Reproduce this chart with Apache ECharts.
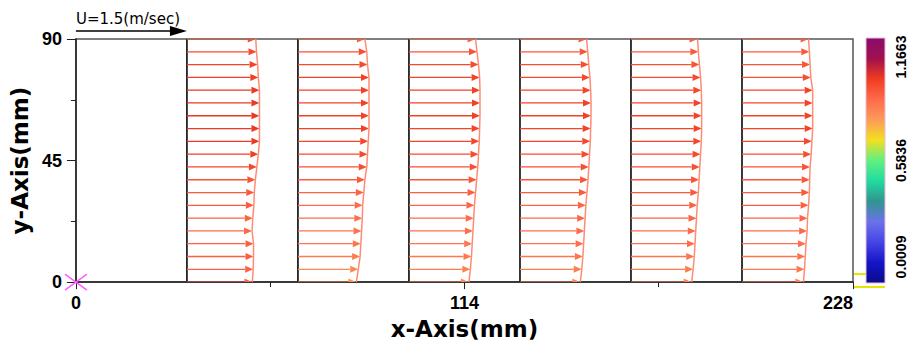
<!DOCTYPE html>
<html>
<head>
<meta charset="utf-8">
<script src="https://cdn.jsdelivr.net/npm/echarts@6.0.0/dist/echarts.min.js"></script>
<style>
  html, body { margin: 0; padding: 0; background: #fff; }
  #main { width: 914px; height: 345px; }
</style>
</head>
<body>
<div id="main"></div>
<script>
// domain, mm
const xMax = 228;
const yMax = 90;

// measuring stations along x (mm) and sample heights (mm)
const stationX = [32.57, 65.14, 97.71, 130.29, 162.86, 195.43];
const rowY = [90, 85.26, 80.53, 75.79, 71.05, 66.32, 61.58, 56.84, 52.11, 47.37,
              42.63, 37.89, 33.16, 28.42, 23.68, 18.95, 14.21, 9.47, 4.74, 0];

// velocity U (m/sec) at each row, top to bottom, one array per station
const uStation1 = [0.93, 0.94, 0.955, 0.965, 0.98, 0.98, 0.98, 0.98, 0.98, 0.965,
                   0.945, 0.925, 0.91, 0.905, 0.89, 0.88, 0.90, 0.90, 0.895, 0.885];
const uStation2 = [0.905, 0.93, 0.94, 0.96, 0.96, 0.96, 0.96, 0.96, 0.95, 0.94,
                   0.93, 0.905, 0.89, 0.875, 0.87, 0.86, 0.85, 0.84, 0.815, 0.79];
const uStation3 = [0.90, 0.92, 0.94, 0.955, 0.96, 0.96, 0.96, 0.955, 0.95, 0.94,
                   0.93, 0.915, 0.90, 0.885, 0.875, 0.865, 0.855, 0.845, 0.83, 0.81];
const uStation4 = [0.90, 0.915, 0.93, 0.945, 0.955, 0.96, 0.96, 0.955, 0.95, 0.94,
                   0.93, 0.92, 0.905, 0.89, 0.88, 0.87, 0.86, 0.85, 0.835, 0.815];
const uStation5 = [0.90, 0.91, 0.925, 0.94, 0.95, 0.955, 0.955, 0.955, 0.95, 0.94,
                   0.93, 0.92, 0.91, 0.895, 0.885, 0.875, 0.865, 0.855, 0.84, 0.82];
const uStation6 = [0.90, 0.91, 0.92, 0.93, 0.955, 0.955, 0.955, 0.955, 0.945, 0.935,
                   0.92, 0.915, 0.91, 0.90, 0.885, 0.88, 0.865, 0.855, 0.845, 0.83];
const uStations = [uStation1, uStation2, uStation3, uStation4, uStation5, uStation6];

// reference arrow and colour bar
const scaleU = 1.5;          // m/sec
const scaleLenMm = 32.57;    // length of the reference arrow on the x axis
const colorbarTicks = [0.0009, 0.5836, 1.1663];

const mmPerU = scaleLenMm / scaleU;

// colour bar, low -> high
const colorbarColors = ['#0a0a8a', '#1515c8', '#4545e6', '#6c72e8', '#30958f', '#20dca0',
                        '#60f080', '#f2e020', '#fc9a58', '#ff6a4c', '#f03c20', '#a0104e', '#8a0c6e'];

function speedColor(u) {
  const lo = colorbarTicks[0], hi = colorbarTicks[colorbarTicks.length - 1];
  const t = Math.max(0, Math.min(1, (u - lo) / (hi - lo)));
  return echarts.color.lerp(t, colorbarColors);
}

const arrowData = [];
stationX.forEach((x, s) => {
  rowY.forEach((y, i) => arrowData.push([x, y, uStations[s][i]]));
});

const chart = echarts.init(document.getElementById('main'), null, { renderer: 'svg' });

const profileSeries = stationX.map((x, s) => ({
  type: 'line',
  silent: true,
  symbol: 'none',
  z: 4,
  lineStyle: { color: '#ff8c72', width: 1.5 },
  data: rowY.map((y, i) => [x + uStations[s][i] * mmPerU, y])
}));

const tickFont = { fontFamily: 'Liberation Sans, Arial, sans-serif', fontWeight: 'bold', fontSize: 18, color: '#000' };
const nameFont = { fontFamily: 'DejaVu Sans, sans-serif', fontWeight: 'bold', fontSize: 23, color: '#000' };
const cbFont = 'bold 14px "Liberation Sans Narrow", "Liberation Sans", sans-serif';

const cbX = 866, cbY = 38, cbW = 19, cbH = 245;

chart.setOption({
  animation: false,
  backgroundColor: '#fff',
  grid: { left: 75, right: 61, top: 39, bottom: 59, show: true, borderColor: '#555', borderWidth: 1.5 },
  xAxis: {
    type: 'value', min: 0, max: xMax, interval: 114,
    name: 'x-Axis(mm)', nameLocation: 'middle', nameGap: 27, nameTextStyle: nameFont,
    axisLine: { lineStyle: { color: '#222', width: 1.5 } },
    axisTick: { length: 7, lineStyle: { color: '#222' } },
    minorTick: { show: true, splitNumber: 2, length: 5, lineStyle: { color: '#222' } },
    axisLabel: Object.assign({ margin: 12, alignMaxLabel: 'right' }, tickFont),
    splitLine: { show: false }
  },
  yAxis: {
    type: 'value', min: 0, max: yMax, interval: 45,
    name: 'y-Axis(mm)', nameLocation: 'middle', nameGap: 26, nameTextStyle: nameFont,
    axisLine: { lineStyle: { color: '#222', width: 1.5 } },
    axisTick: { length: 9, lineStyle: { color: '#222' } },
    minorTick: { show: true, splitNumber: 2, length: 5, lineStyle: { color: '#222' } },
    axisLabel: Object.assign({ margin: 14 }, tickFont),
    splitLine: { show: false }
  },
  series: [
    {
      // station lines
      type: 'custom', silent: true, z: 2,
      data: stationX.map(x => [x, 0]),
      renderItem: (params, api) => {
        const p0 = api.coord([api.value(0), 0]);
        const p1 = api.coord([api.value(0), yMax]);
        return { type: 'line', shape: { x1: p0[0], y1: p0[1], x2: p1[0], y2: p1[1] },
                 style: { stroke: '#222', lineWidth: 1.8 } };
      }
    },
    {
      // velocity arrows
      type: 'custom', silent: true, clip: true, z: 3,
      data: arrowData,
      renderItem: (params, api) => {
        const x0 = api.value(0), y = api.value(1), u = api.value(2);
        const p0 = api.coord([x0, y]);
        const p1 = api.coord([x0 + u * mmPerU, y]);
        const headLen = 8, headHalf = 3.5;
        const color = speedColor(u);
        return {
          type: 'group',
          children: [
            { type: 'line', shape: { x1: p0[0], y1: p0[1], x2: p1[0] - headLen, y2: p1[1] },
              style: { stroke: color, lineWidth: 1.3 } },
            { type: 'polygon', shape: { points: [[p1[0], p1[1]], [p1[0] - headLen, p1[1] - headHalf], [p1[0] - headLen, p1[1] + headHalf]] },
              style: { fill: color } }
          ]
        };
      }
    },
    ...profileSeries,
    {
      // reference arrow and origin marker
      type: 'custom', silent: true, clip: false, z: 5,
      data: [[0, 0]],
      renderItem: (params, api) => {
        const o = api.coord([0, 0]);
        const top = api.coord([0, yMax]);
        const tip = api.coord([scaleU * mmPerU, yMax]);
        const ay = top[1] - 8;
        return {
          type: 'group',
          children: [
            { type: 'line', shape: { x1: o[0], y1: ay, x2: tip[0] - 16, y2: ay }, style: { stroke: '#000', lineWidth: 1.5 } },
            { type: 'polygon', shape: { points: [[tip[0], ay], [tip[0] - 17, ay - 5], [tip[0] - 17, ay + 5]] }, style: { fill: '#000' } },
            { type: 'text', x: o[0], y: ay - 12,
              style: { text: 'U=' + scaleU + '(m/sec)', font: '15px "DejaVu Sans", sans-serif', fill: '#000', align: 'left', verticalAlign: 'middle' } },
            { type: 'line', shape: { x1: o[0] - 11, y1: o[1] - 8, x2: o[0] + 11, y2: o[1] + 8 }, style: { stroke: '#ff5cff', lineWidth: 1.5 } },
            { type: 'line', shape: { x1: o[0] - 11, y1: o[1] + 8, x2: o[0] + 11, y2: o[1] - 8 }, style: { stroke: '#ff5cff', lineWidth: 1.5 } }
          ]
        };
      }
    }
  ],
  graphic: [
    { type: 'line', shape: { x1: 854, y1: 274, x2: 866, y2: 274 }, style: { stroke: '#e6e600', lineWidth: 2 } },
    { type: 'line', shape: { x1: 854, y1: 287, x2: 885, y2: 287 }, style: { stroke: '#e6e600', lineWidth: 2 } },
    {
      type: 'rect', shape: { x: cbX, y: cbY, width: cbW, height: cbH },
      style: {
        fill: new echarts.graphic.LinearGradient(0, 1, 0, 0,
          colorbarColors.map((c, i) => ({ offset: i / (colorbarColors.length - 1), color: c }))),
        stroke: '#e8c0d8', lineWidth: 1
      }
    },
    ...colorbarTicks.map((v, i) => ({
      type: 'text', x: 901, y: [cbY + cbH - 26, cbY + cbH / 2, cbY + 19][i], rotation: Math.PI / 2,
      style: { text: v.toFixed(4), font: cbFont, fill: '#000', align: 'center', verticalAlign: 'middle' }
    }))
  ]
});
</script>
</body>
</html>
